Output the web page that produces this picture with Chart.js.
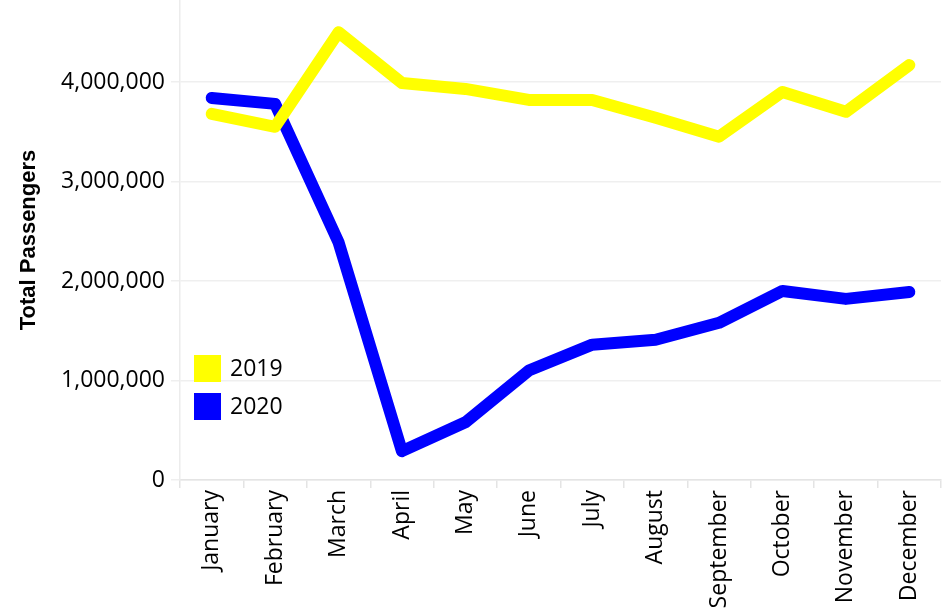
<!DOCTYPE html>
<html lang="en">
<head>
  <meta charset="UTF-8">
  <title>Total Passengers 2019 vs 2020</title>
  <script src="https://cdn.jsdelivr.net/npm/chart.js"></script>
  <style>
    body {
      margin: 0;
      padding: 0;
      background: white;
    }
    #wrap {
      width: 947px;
      height: 612px;
      position: relative;
    }
  </style>
</head>
<body>
  <div id="wrap">
    <canvas id="passengerChart"></canvas>
  </div>

  <script>
    const months = ['January', 'February', 'March', 'April', 'May', 'June',
      'July', 'August', 'September', 'October', 'November', 'December'];
    const passengers2019 = [3680000, 3550000, 4500000, 3990000, 3930000, 3820000,
      3820000, 3640000, 3450000, 3900000, 3700000, 4170000];
    const passengers2020 = [3840000, 3780000, 2390000, 290000, 580000, 1100000,
      1360000, 1410000, 1580000, 1900000, 1820000, 1890000];
    const yTicks = [0, 1000000, 2000000, 3000000, 4000000];

    const tickFont = { family: '"Open Sans", sans-serif', size: 23 };

    // legend drawn inside the plot, left side, like the original
    const innerLegend = {
      id: 'innerLegend',
      afterDatasetsDraw(chart) {
        const ctx = chart.ctx;
        const area = chart.chartArea;
        const x = area.left + 14;
        let y = 355;
        ctx.save();
        chart.data.datasets.forEach(ds => {
          ctx.fillStyle = ds.borderColor;
          ctx.fillRect(x, y, 27, 27);
          ctx.fillStyle = '#000';
          ctx.font = '23px "Open Sans", sans-serif';
          ctx.textBaseline = 'middle';
          ctx.fillText(ds.label, x + 36, y + 14);
          y += 38;
        });
        ctx.restore();
      }
    };

    new Chart(document.getElementById('passengerChart'), {
      type: 'line',
      data: {
        labels: months,
        datasets: [
          {
            label: '2019',
            data: passengers2019,
            borderColor: '#ffff00',
            backgroundColor: '#ffff00',
            borderWidth: 12,
            borderCapStyle: 'round',
            borderJoinStyle: 'round',
            pointRadius: 0,
            tension: 0
          },
          {
            label: '2020',
            data: passengers2020,
            borderColor: '#0000ff',
            backgroundColor: '#0000ff',
            borderWidth: 12,
            borderCapStyle: 'round',
            borderJoinStyle: 'round',
            pointRadius: 0,
            tension: 0
          }
        ]
      },
      options: {
        responsive: true,
        maintainAspectRatio: false,
        animation: false,
        layout: { padding: { top: 0, right: 6, bottom: 0, left: 0 } },
        plugins: {
          legend: { display: false },
          tooltip: { enabled: false }
        },
        scales: {
          x: {
            offset: true,
            grid: {
              offset: true,
              drawOnChartArea: false,
              tickLength: 8,
              color: '#e4e4e4',
              lineWidth: 1.5
            },
            border: { color: '#e4e4e4', dash: [3, 2], width: 1.5 },
            ticks: {
              color: '#000',
              font: tickFont,
              minRotation: 90,
              maxRotation: 90,
              padding: 2,
              autoSkip: false
            },
            afterFit(scale) {
              scale.height = 132;
              scale.paddingLeft = 0;
              scale.paddingRight = 0;
            }
          },
          y: {
            min: 0,
            max: 4824000,
            grid: {
              color: '#efefef',
              lineWidth: 1.5,
              tickLength: 9
            },
            border: { color: '#ececec', width: 1.5 },
            ticks: {
              color: '#000',
              font: tickFont,
              padding: 6,
              callback: v => v.toLocaleString('en-US')
            },
            afterBuildTicks(scale) {
              scale.ticks = yTicks.map(v => ({ value: v }));
            },
            afterFit(scale) {
              scale.width = 180;
              scale.paddingTop = 0;
              scale.paddingBottom = 0;
            },
            title: {
              display: true,
              text: 'Total Passengers',
              color: '#000',
              font: { family: '"Liberation Sans", Arial, sans-serif', size: 22, weight: 'bold' },
              padding: { top: 16, bottom: 0 }
            }
          }
        }
      },
      plugins: [innerLegend]
    });
  </script>
</body>
</html>
